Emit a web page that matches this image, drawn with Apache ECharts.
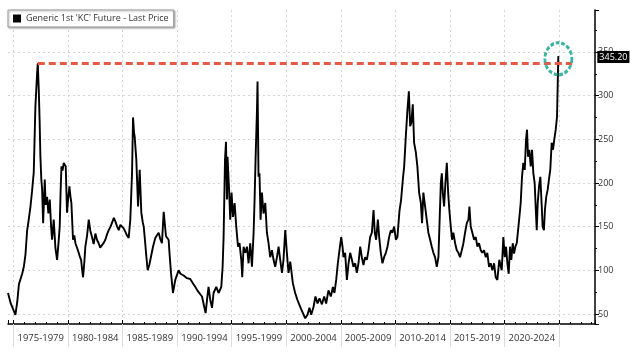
<!DOCTYPE html>
<html lang="en">
    <head>
        <meta charset="utf-8">
        <title>Generic 1st 'KC' Future</title>
        <script src="https://cdn.jsdelivr.net/npm/echarts@6/dist/echarts.min.js"></script>
        <style>
            html, body { margin: 0; padding: 0; background: #fff; }
        </style>
    </head>
    <body>
        <div id="main" style="width: 630px;height:355px;"></div>
        <script type="text/javascript">
            // period labels under the x axis, one per 5-year block
            var periodLabels = ['1975-1979', '1980-1984', '1985-1989', '1990-1994', '1995-1999',
                '2000-2004', '2005-2009', '2010-2014', '2015-2019', '2020-2024'];
            var periodStarts = [1975, 1980, 1985, 1990, 1995, 2000, 2005, 2010, 2015, 2020];

            // [year, last price]
            var priceData = [
                [1974.5, 74], [1974.75, 62], [1974.95, 56], [1975.18, 49], [1975.35, 64], [1975.5, 84],
                [1975.65, 82], [1975.8, 96], [1975.95, 104], [1976.1, 118], [1976.25, 145], [1976.4, 158],
                [1976.56, 173], [1976.7, 190], [1976.86, 212], [1977.01, 287], [1977.17, 326], [1977.23, 337],
                [1977.32, 307], [1977.4, 270], [1977.47, 230], [1977.55, 205], [1977.63, 192], [1977.72, 154],
                [1977.87, 204], [1977.95, 175], [1978.08, 184], [1978.2, 165], [1978.33, 181], [1978.45, 150],
                [1978.54, 135], [1978.69, 158], [1978.85, 125], [1979.0, 112], [1979.12, 130], [1979.24, 150],
                [1979.32, 190], [1979.4, 219], [1979.5, 214], [1979.61, 223], [1979.79, 219], [1979.91, 166],
                [1980.0, 180], [1980.13, 196], [1980.22, 185], [1980.31, 177], [1980.46, 135], [1980.58, 140],
                [1980.68, 131], [1980.85, 125], [1980.98, 120], [1981.1, 115], [1981.2, 112], [1981.3, 100],
                [1981.38, 92], [1981.5, 110], [1981.59, 127], [1981.75, 140], [1981.9, 158], [1982.05, 145],
                [1982.2, 138], [1982.35, 130], [1982.51, 142], [1982.65, 135], [1982.81, 131], [1982.95, 126],
                [1983.12, 127], [1983.3, 132], [1983.42, 135], [1983.6, 142], [1983.73, 146], [1983.9, 150],
                [1984.04, 152], [1984.2, 160], [1984.34, 156], [1984.5, 150], [1984.65, 146], [1984.8, 152],
                [1984.95, 150], [1985.1, 148], [1985.26, 144], [1985.4, 140], [1985.56, 137], [1985.71, 158],
                [1985.87, 212], [1985.96, 275], [1986.05, 258], [1986.11, 253], [1986.26, 227], [1986.42, 173],
                [1986.57, 215], [1986.72, 166], [1986.85, 155], [1986.94, 150], [1987.05, 135], [1987.15, 120],
                [1987.3, 100], [1987.45, 106], [1987.55, 104], [1987.79, 127], [1988.0, 137], [1988.15, 140],
                [1988.31, 143], [1988.45, 136], [1988.61, 131], [1988.77, 167], [1988.98, 139], [1989.1, 138],
                [1989.22, 135], [1989.3, 120], [1989.44, 97], [1989.62, 74], [1989.83, 89], [1990.0, 95],
                [1990.14, 100], [1990.3, 96], [1990.45, 97], [1990.6, 94], [1990.75, 95], [1990.9, 91],
                [1991.06, 92], [1991.2, 90], [1991.36, 89], [1991.5, 84], [1991.67, 81], [1991.85, 77],
                [1992.0, 75], [1992.28, 70], [1992.49, 58], [1992.61, 51], [1992.74, 66], [1992.88, 81],
                [1993.04, 66], [1993.2, 57], [1993.34, 74], [1993.59, 81], [1993.8, 74], [1994.05, 81],
                [1994.17, 104], [1994.26, 138], [1994.39, 227], [1994.48, 247], [1994.57, 181], [1994.62, 230],
                [1994.75, 196], [1994.87, 158], [1994.99, 189], [1995.12, 161], [1995.27, 177], [1995.42, 150],
                [1995.58, 127], [1995.72, 131], [1995.88, 112], [1995.97, 92], [1996.09, 127], [1996.25, 120],
                [1996.4, 127], [1996.55, 108], [1996.7, 131], [1996.86, 104], [1997.01, 143], [1997.1, 181],
                [1997.19, 227], [1997.32, 284], [1997.37, 316], [1997.46, 207], [1997.55, 211], [1997.65, 158],
                [1997.77, 189], [1997.92, 165], [1998.08, 177], [1998.23, 143], [1998.38, 131], [1998.53, 115],
                [1998.69, 123], [1998.84, 112], [1998.99, 104], [1999.15, 115], [1999.3, 127], [1999.45, 112],
                [1999.61, 97], [1999.75, 112], [1999.91, 146], [2000.06, 120], [2000.21, 97], [2000.37, 110],
                [2000.61, 85], [2000.82, 74], [2001.03, 66], [2001.28, 58], [2001.53, 51], [2001.74, 45],
                [2001.95, 49], [2002.13, 57], [2002.29, 49], [2002.5, 58], [2002.68, 70], [2002.87, 62],
                [2003.05, 68], [2003.27, 61], [2003.48, 70], [2003.66, 62], [2003.87, 77], [2004.09, 70],
                [2004.28, 81], [2004.42, 74], [2004.58, 89], [2004.73, 108], [2004.88, 123], [2005.04, 138],
                [2005.16, 127], [2005.25, 115], [2005.4, 120], [2005.56, 89], [2005.71, 108], [2005.86, 120],
                [2006.02, 112], [2006.16, 104], [2006.32, 108], [2006.47, 97], [2006.62, 108], [2006.78, 127],
                [2006.93, 115], [2007.08, 106], [2007.23, 115], [2007.39, 112], [2007.54, 123], [2007.69, 138],
                [2007.85, 143], [2008.0, 169], [2008.12, 143], [2008.24, 135], [2008.4, 158], [2008.52, 138],
                [2008.67, 120], [2008.82, 108], [2008.97, 115], [2009.13, 120], [2009.28, 127], [2009.43, 138],
                [2009.59, 146], [2009.73, 143], [2009.89, 150], [2010.05, 135], [2010.19, 138], [2010.38, 168],
                [2010.53, 181], [2010.69, 204], [2010.81, 219], [2010.96, 253], [2011.11, 284], [2011.24, 305],
                [2011.36, 265], [2011.47, 269], [2011.6, 290], [2011.72, 246], [2011.88, 235], [2012.02, 219],
                [2012.18, 189], [2012.34, 177], [2012.45, 154], [2012.57, 189], [2012.73, 173], [2012.88, 158],
                [2013.03, 143], [2013.19, 135], [2013.34, 127], [2013.49, 120], [2013.64, 115], [2013.8, 104],
                [2013.95, 115], [2014.04, 150], [2014.17, 200], [2014.26, 211], [2014.35, 189], [2014.47, 173],
                [2014.59, 200], [2014.72, 223], [2014.84, 189], [2014.95, 169], [2015.08, 150], [2015.2, 135],
                [2015.32, 143], [2015.48, 131], [2015.63, 123], [2015.78, 120], [2015.93, 115], [2016.09, 123],
                [2016.24, 131], [2016.39, 143], [2016.55, 154], [2016.7, 158], [2016.79, 173], [2016.91, 150],
                [2017.06, 143], [2017.22, 135], [2017.37, 138], [2017.52, 127], [2017.67, 131], [2017.83, 123],
                [2017.97, 120], [2018.13, 123], [2018.29, 115], [2018.43, 120], [2018.59, 104], [2018.74, 108],
                [2018.89, 100], [2019.05, 108], [2019.2, 92], [2019.35, 89], [2019.53, 112], [2019.6, 108],
                [2019.75, 100], [2019.9, 138], [2020.03, 115], [2020.15, 127], [2020.27, 108], [2020.39, 96],
                [2020.51, 127], [2020.63, 112], [2020.76, 131], [2020.88, 119], [2021.0, 127], [2021.13, 131],
                [2021.25, 146], [2021.37, 161], [2021.49, 177], [2021.61, 207], [2021.73, 223], [2021.86, 215],
                [2021.98, 250], [2022.07, 261], [2022.16, 230], [2022.28, 238], [2022.41, 219], [2022.53, 238],
                [2022.65, 211], [2022.77, 200], [2022.86, 173], [2022.96, 146], [2023.05, 177], [2023.17, 196],
                [2023.29, 207], [2023.42, 173], [2023.5, 150], [2023.62, 146], [2023.71, 169], [2023.83, 184],
                [2023.96, 192], [2024.08, 204], [2024.2, 215], [2024.33, 246], [2024.45, 238], [2024.57, 250],
                [2024.7, 261], [2024.82, 276], [2024.91, 330], [2024.94, 345.2]
            ];

            var xMin = 1974.5, xMax = 2028.3;
            var yMin = 38.5, yMax = 398;
            var peakLineEnd = 2026.2;

            // the old 1977 high, and the last point
            var peak = priceData[0];
            for (var i = 0; i < priceData.length; i++) {
                if (priceData[i][0] < 1990 && priceData[i][1] > peak[1]) peak = priceData[i];
            }
            var last = priceData[priceData.length - 1];

            var labelValues = periodStarts.map(function (s) { return s + 2.5; });
            var sepValues = periodStarts.concat([2025]);

            var myChart = echarts.init(document.getElementById('main'));
            var fontFam = '"Open Sans", "DejaVu Sans", sans-serif';

            myChart.setOption({
                backgroundColor: '#fff',
                animation: false,
                legend: {
                    left: 8,
                    top: 10,
                    padding: [4, 5, 4, 5],
                    itemWidth: 8,
                    itemHeight: 8,
                    itemGap: 4,
                    icon: 'rect',
                    backgroundColor: '#fff',
                    borderColor: '#999',
                    borderWidth: 1,
                    shadowColor: 'rgba(0,0,0,0.3)',
                    shadowBlur: 2,
                    shadowOffsetX: 1,
                    shadowOffsetY: 1,
                    textStyle: { color: '#333', fontSize: 9, fontFamily: fontFam },
                    data: ["Generic 1st 'KC' Future - Last Price"]
                },
                grid: {
                    left: 8,
                    right: 35,
                    top: 10,
                    bottom: 31
                },
                xAxis: [{
                    type: 'value',
                    min: xMin,
                    max: xMax,
                    splitNumber: 11,
                    minInterval: 5,
                    maxInterval: 5,
                    axisLine: { show: true, lineStyle: { color: '#000', width: 1.5 } },
                    axisTick: { show: true, inside: true, length: 4, lineStyle: { color: '#000' } },
                    minorTick: { show: true, splitNumber: 5, length: 2, lineStyle: { color: '#000' } },
                    splitLine: {
                        show: true,
                        showMinLine: false,
                        showMaxLine: false,
                        lineStyle: { color: '#d4d4d4', type: [2, 3], width: 1 }
                    },
                    axisLabel: {
                        customValues: labelValues,
                        margin: 9,
                        color: '#333',
                        fontSize: 9.5,
                        fontFamily: fontFam,
                        formatter: function (v) {
                            var idx = periodStarts.indexOf(Math.round(v - 2.5));
                            return idx >= 0 ? periodLabels[idx] : '';
                        }
                    }
                }, {
                    type: 'value',
                    min: xMin,
                    max: xMax,
                    position: 'bottom',
                    axisLine: { show: false },
                    axisTick: { show: true, customValues: sepValues, length: 23, lineStyle: { color: '#dcdcdc' } },
                    axisLabel: { show: false },
                    splitLine: { show: false }
                }],
                yAxis: {
                    type: 'value',
                    position: 'right',
                    min: yMin,
                    max: yMax,
                    splitNumber: 7,
                    minInterval: 50,
                    maxInterval: 50,
                    axisLine: { show: true, lineStyle: { color: '#000', width: 1.5 } },
                    axisTick: { show: true, length: 4, lineStyle: { color: '#000' } },
                    minorTick: { show: true, splitNumber: 2, length: 2, lineStyle: { color: '#000' } },
                    splitLine: {
                        show: true,
                        showMinLine: false,
                        showMaxLine: false,
                        lineStyle: { color: '#d4d4d4', type: [2, 3], width: 1 }
                    },
                    axisLabel: {
                        showMinLabel: false,
                        showMaxLabel: false,
                        margin: 3,
                        color: '#333',
                        fontSize: 9,
                        fontFamily: fontFam
                    }
                },
                series: [{
                    name: "Generic 1st 'KC' Future - Last Price",
                    type: 'line',
                    data: priceData,
                    showSymbol: false,
                    symbol: 'none',
                    color: '#000',
                    lineStyle: { color: '#000', width: 1.9 },
                    z: 3,
                    endLabel: {
                        show: true,
                        offset: [31, 1],
                        formatter: function (p) { return p.value[1].toFixed(2); },
                        backgroundColor: '#000',
                        color: '#fff',
                        fontSize: 9,
                        fontFamily: fontFam,
                        padding: [2, 2, 1, 2]
                    },
                    markLine: {
                        silent: true,
                        symbol: 'none',
                        label: { show: false },
                        lineStyle: { color: '#e55a45', type: [7, 4], width: 3 },
                        data: [[{ coord: [peak[0], peak[1]] }, { coord: [peakLineEnd, peak[1]] }]],
                        z: 4
                    },
                    markPoint: {
                        silent: true,
                        symbol: 'circle',
                        symbolSize: [27, 32],
                        label: { show: false },
                        itemStyle: {
                            color: 'rgba(0,0,0,0)',
                            borderColor: '#3ab5a0',
                            borderWidth: 3,
                            borderType: [4, 2]
                        },
                        data: [{ coord: [last[0], last[1] - 3] }],
                        z: 5
                    }
                }]
            });
        </script>
    </body>
</html>
